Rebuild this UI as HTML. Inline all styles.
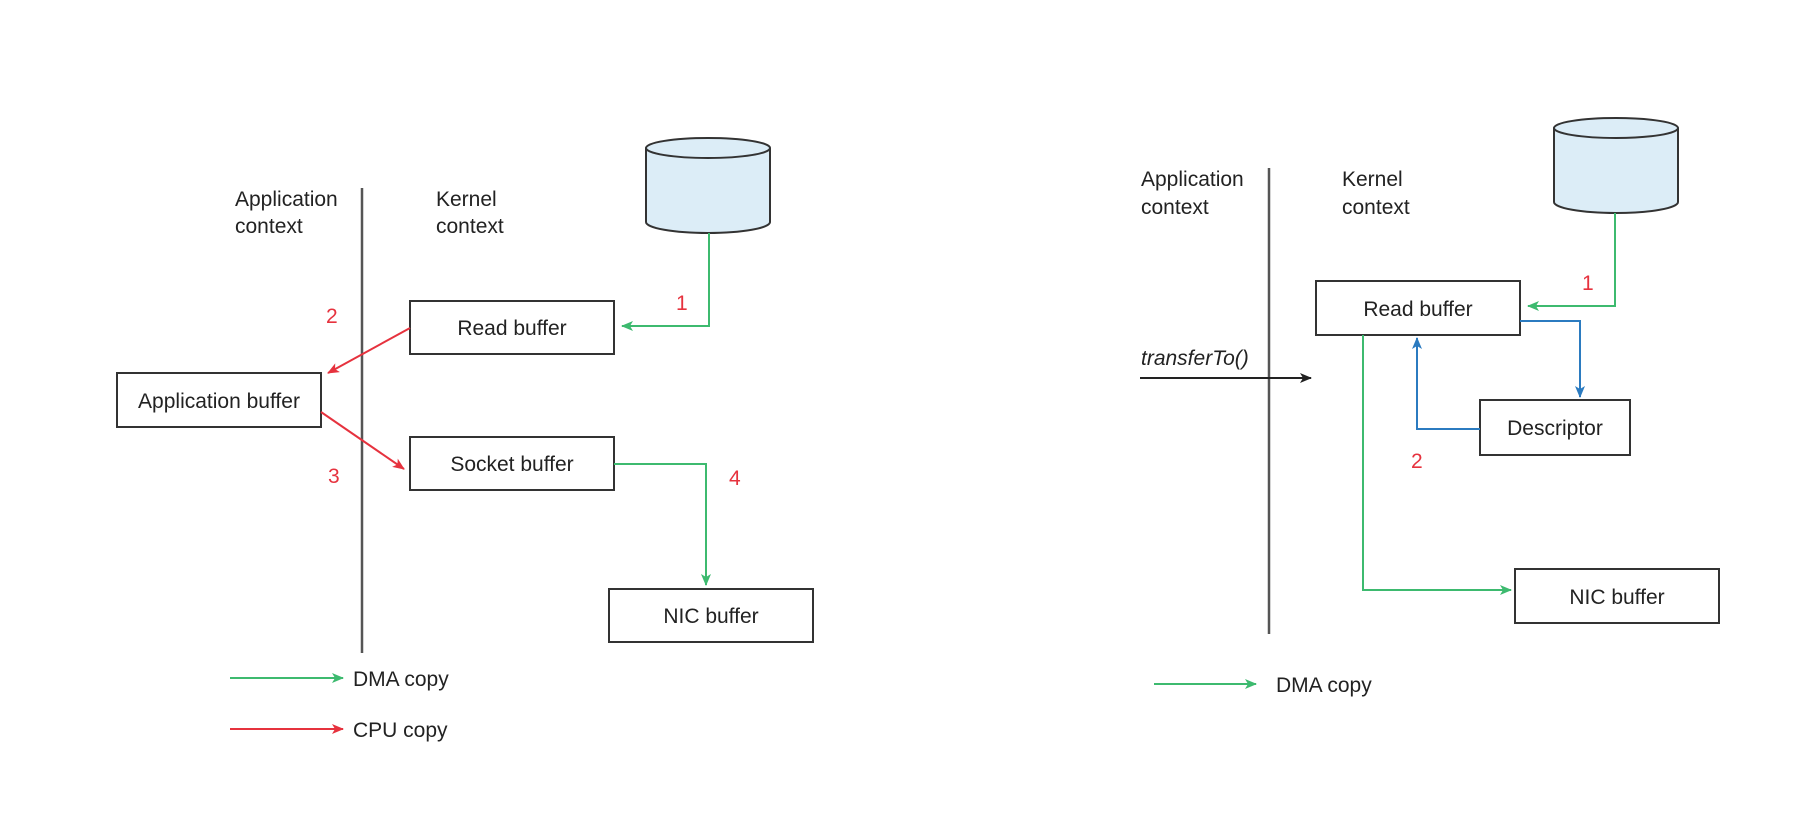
<!DOCTYPE html>
<html><head><meta charset="utf-8"><style>
html,body{margin:0;padding:0;background:#fff;}
svg{display:block;font-family:"Liberation Sans",Arial,sans-serif;}
</style></head><body>
<svg width="1814" height="816" viewBox="0 0 1814 816" xmlns="http://www.w3.org/2000/svg">
<defs>
<marker id="g" markerWidth="12" markerHeight="10" refX="11" refY="5" orient="auto" markerUnits="userSpaceOnUse"><path d="M0,0 L12,5 L0,10 L3,5 z" fill="#3dba6f"/></marker>
<marker id="r" markerWidth="12" markerHeight="10" refX="11" refY="5" orient="auto" markerUnits="userSpaceOnUse"><path d="M0,0 L12,5 L0,10 L3,5 z" fill="#e6323e"/></marker>
<marker id="b" markerWidth="12" markerHeight="10" refX="11" refY="5" orient="auto" markerUnits="userSpaceOnUse"><path d="M0,0 L12,5 L0,10 L3,5 z" fill="#2b7bc0"/></marker>
<marker id="k" markerWidth="12" markerHeight="10" refX="11" refY="5" orient="auto" markerUnits="userSpaceOnUse"><path d="M0,0 L12,5 L0,10 L3,5 z" fill="#222"/></marker>
</defs>
<g font-size="21" fill="#222">
<!-- LEFT -->
<line x1="362" y1="188" x2="362" y2="653" stroke="#555" stroke-width="2.5"/>
<text x="235" y="206">Application</text><text x="235" y="233">context</text>
<text x="436" y="206">Kernel</text><text x="436" y="233">context</text>
<path d="M646,148 L646,222 A62,11 0 0 0 770,222 L770,148" fill="#dcedf7" stroke="#333" stroke-width="2"/>
<ellipse cx="708" cy="148" rx="62" ry="10" fill="#dcedf7" stroke="#333" stroke-width="2"/>
<rect x="410" y="301" width="204" height="53" fill="#fff" stroke="#333" stroke-width="2"/>
<text x="512" y="335" text-anchor="middle">Read buffer</text>
<rect x="117" y="373" width="204" height="54" fill="#fff" stroke="#333" stroke-width="2"/>
<text x="219" y="408" text-anchor="middle">Application buffer</text>
<rect x="410" y="437" width="204" height="53" fill="#fff" stroke="#333" stroke-width="2"/>
<text x="512" y="471" text-anchor="middle">Socket buffer</text>
<rect x="609" y="589" width="204" height="53" fill="#fff" stroke="#333" stroke-width="2"/>
<text x="711" y="623" text-anchor="middle">NIC buffer</text>
<polyline points="709,233 709,326 622,326" fill="none" stroke="#3dba6f" stroke-width="2" marker-end="url(#g)"/>
<line x1="410" y1="328" x2="328" y2="373" stroke="#e6323e" stroke-width="2" marker-end="url(#r)"/>
<line x1="321" y1="412" x2="404" y2="469" stroke="#e6323e" stroke-width="2" marker-end="url(#r)"/>
<polyline points="614,464 706,464 706,585" fill="none" stroke="#3dba6f" stroke-width="2" marker-end="url(#g)"/>
<g fill="#e6323e"><text x="676" y="310">1</text><text x="326" y="323">2</text><text x="328" y="483">3</text><text x="729" y="485">4</text></g>
<line x1="230" y1="678" x2="343" y2="678" stroke="#3dba6f" stroke-width="2" marker-end="url(#g)"/>
<text x="353" y="686">DMA copy</text>
<line x1="230" y1="729" x2="343" y2="729" stroke="#e6323e" stroke-width="2" marker-end="url(#r)"/>
<text x="353" y="737">CPU copy</text>
<!-- RIGHT -->
<line x1="1269" y1="168" x2="1269" y2="634" stroke="#555" stroke-width="2.5"/>
<text x="1141" y="186">Application</text><text x="1141" y="214">context</text>
<text x="1342" y="186">Kernel</text><text x="1342" y="214">context</text>
<path d="M1554,128 L1554,202 A62,11 0 0 0 1678,202 L1678,128" fill="#dcedf7" stroke="#333" stroke-width="2"/>
<ellipse cx="1616" cy="128" rx="62" ry="10" fill="#dcedf7" stroke="#333" stroke-width="2"/>
<rect x="1316" y="281" width="204" height="54" fill="#fff" stroke="#333" stroke-width="2"/>
<text x="1418" y="316" text-anchor="middle">Read buffer</text>
<rect x="1480" y="400" width="150" height="55" fill="#fff" stroke="#333" stroke-width="2"/>
<text x="1555" y="435" text-anchor="middle">Descriptor</text>
<rect x="1515" y="569" width="204" height="54" fill="#fff" stroke="#333" stroke-width="2"/>
<text x="1617" y="604" text-anchor="middle">NIC buffer</text>
<polyline points="1615,213 1615,306 1528,306" fill="none" stroke="#3dba6f" stroke-width="2" marker-end="url(#g)"/>
<polyline points="1520,321 1580,321 1580,397" fill="none" stroke="#2b7bc0" stroke-width="2" marker-end="url(#b)"/>
<polyline points="1480,429 1417,429 1417,338" fill="none" stroke="#2b7bc0" stroke-width="2" marker-end="url(#b)"/>
<polyline points="1363,335 1363,590 1511,590" fill="none" stroke="#3dba6f" stroke-width="2" marker-end="url(#g)"/>
<text x="1141" y="365" font-style="italic">transferTo()</text>
<line x1="1140" y1="378" x2="1311" y2="378" stroke="#222" stroke-width="2" marker-end="url(#k)"/>
<g fill="#e6323e"><text x="1582" y="290">1</text><text x="1411" y="468">2</text></g>
<line x1="1154" y1="684" x2="1256" y2="684" stroke="#3dba6f" stroke-width="2" marker-end="url(#g)"/>
<text x="1276" y="692">DMA copy</text>
</g>
</svg>
</body></html>
